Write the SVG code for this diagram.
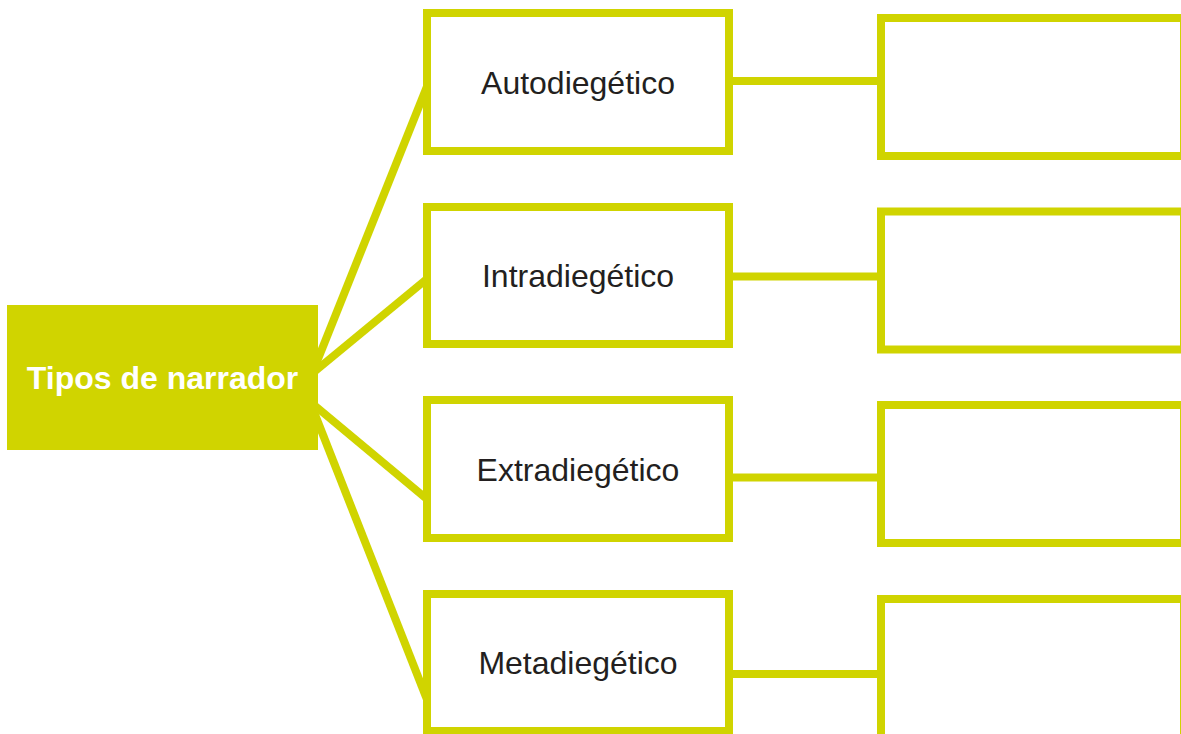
<svg xmlns="http://www.w3.org/2000/svg" width="1181" height="734" viewBox="0 0 1181 734">
<style>
.box{fill:#ffffff;stroke:#D0D400;stroke-width:8}
.lbl{font-family:"Liberation Sans",Arial,sans-serif;font-size:32px;fill:#231F20;text-anchor:middle}
.main{font-family:"Liberation Sans",Arial,sans-serif;font-size:32px;font-weight:bold;fill:#ffffff;text-anchor:middle}
.conn{stroke:#D0D400;stroke-width:8;fill:none}
</style>
<rect width="1181" height="734" fill="#ffffff"/>
<g id="connectors">
<line class="conn" x1="314" y1="369" x2="428" y2="84"/>
<line class="conn" x1="314" y1="372" x2="428" y2="278"/>
<line class="conn" x1="314" y1="405" x2="428" y2="500"/>
<line class="conn" x1="314" y1="412" x2="428" y2="702"/>
<line class="conn" x1="729" y1="81" x2="881" y2="81"/>
<line class="conn" x1="729" y1="276.5" x2="881" y2="276.5"/>
<line class="conn" x1="729" y1="477.5" x2="881" y2="477.5"/>
<line class="conn" x1="729" y1="674" x2="881" y2="674"/>
</g>
<g id="tipos">
<rect x="7" y="305" width="311" height="145" fill="#D0D400"/>
<text class="main" x="162.5" y="389">Tipos de narrador</text>
</g>
<g id="auto">
<rect class="box" x="427" y="13" width="302" height="138"/>
<text class="lbl" x="578" y="94">Autodiegético</text>
</g>
<g id="intra">
<rect class="box" x="427" y="207" width="302" height="137"/>
<text class="lbl" x="578" y="287">Intradiegético</text>
</g>
<g id="extra">
<rect class="box" x="427" y="400" width="302" height="138"/>
<text class="lbl" x="578" y="481">Extradiegético</text>
</g>
<g id="meta">
<rect class="box" x="427" y="594" width="302" height="137"/>
<text class="lbl" x="578" y="674">Metadiegético</text>
</g>
<g id="auto-desc"><rect class="box" x="881" y="18" width="303" height="138"/></g>
<g id="intra-desc"><rect class="box" x="881" y="211.5" width="303" height="138"/></g>
<g id="extra-desc"><rect class="box" x="881" y="405" width="303" height="138"/></g>
<g id="meta-desc"><rect class="box" x="881" y="599" width="303" height="142"/></g>
</svg>
